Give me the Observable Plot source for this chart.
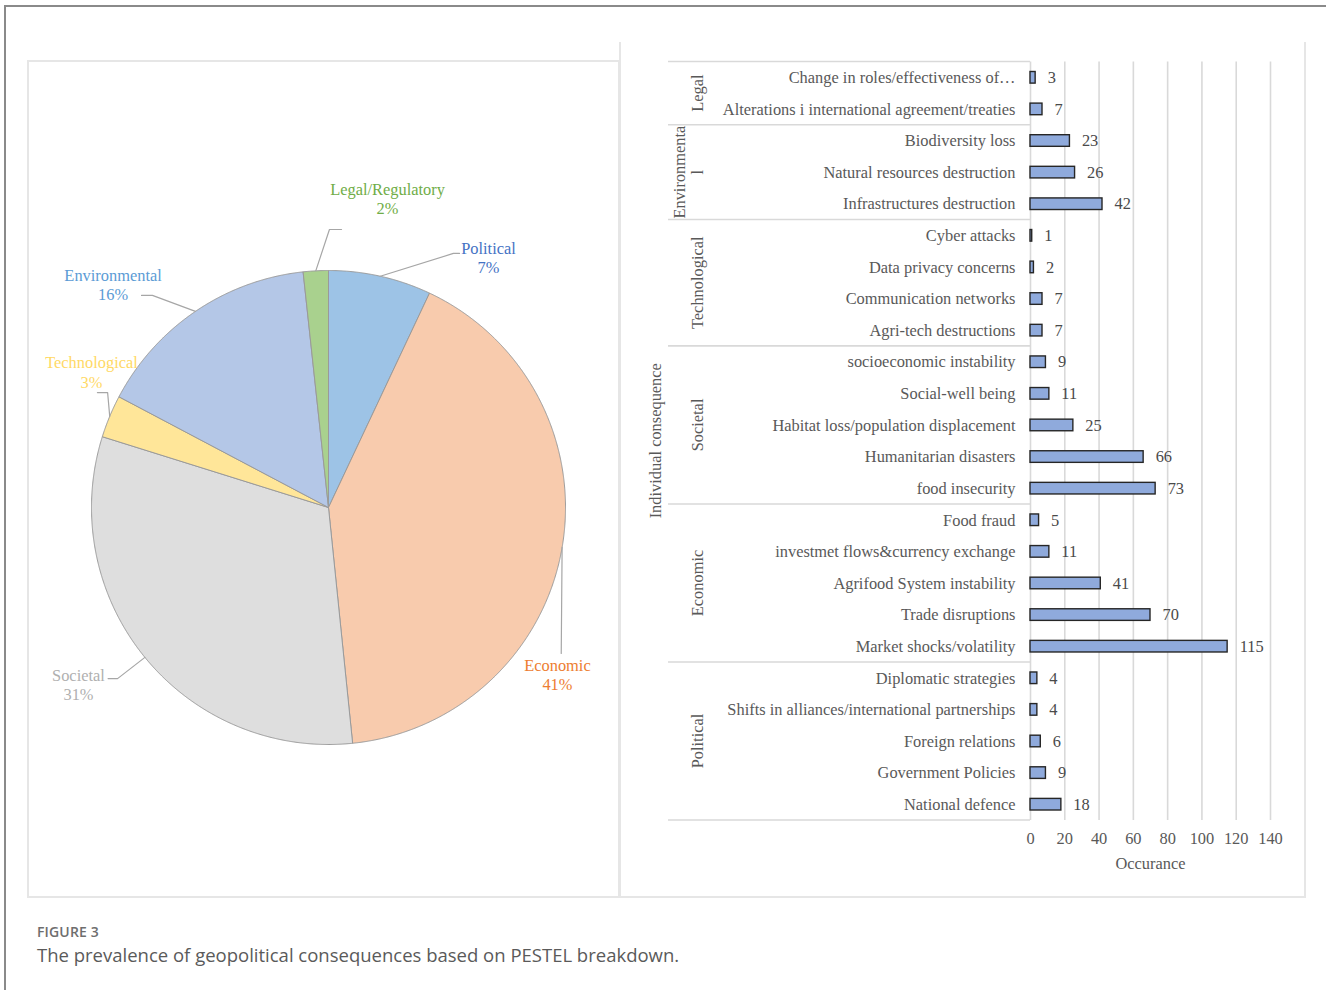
<!DOCTYPE html>
<html>
<head>
<meta charset="utf-8">
<title>PESTEL breakdown of geopolitical consequences</title>
<script src="https://cdn.jsdelivr.net/npm/d3@7"></script>
<script src="https://cdn.jsdelivr.net/npm/@observablehq/plot@0.6"></script>
<style>
  html, body { margin: 0; padding: 0; background: #fff; }
  body { width: 1326px; height: 990px; position: relative; overflow: hidden; }
  .outer { position: absolute; left: 4px; top: 5px; width: 1400px; height: 1100px;
           border-left: 2px solid #8a8a8a; border-top: 2px solid #8a8a8a; }
  .pie-panel { position: absolute; left: 27px; top: 60px; width: 593px; height: 838px;
               box-sizing: border-box; border: 2px solid #e6e6e6; }
  .bar-panel { position: absolute; left: 619px; top: 42px; width: 687px; height: 856px;
               box-sizing: border-box; border: 2px solid #e6e6e6; border-top: none; }
  #pie { position: absolute; left: 27px; top: 60px; }
  #bars { position: absolute; left: 620px; top: 42px; }
  .caption { position: absolute; left: 37px; top: 922px; font-family: "Open Sans", sans-serif; }
  .caption .fig { font-size: 14px; font-weight: 600; color: #6e6e6e; line-height: 20px; letter-spacing: 0.15px; }
  .caption .desc { font-size: 18.5px; color: #5a5a5a; line-height: 24px; margin-top: 1px; }
  svg { overflow: visible; }
</style>
</head>
<body>
<div class="outer"></div>
<div class="pie-panel"></div>
<div class="bar-panel"></div>
<div id="pie"></div>
<div id="bars"></div>
<div class="caption">
  <div class="fig">FIGURE 3</div>
  <div class="desc">The prevalence of geopolitical consequences based on PESTEL breakdown.</div>
</div>
<script>
// ---- data -------------------------------------------------------------
// PESTEL groups, in the order they go clockwise round the pie from 12 o'clock
const pestel = ["Political", "Economic", "Societal", "Technological", "Environmental", "Legal"];
const pieLabels = ["Political", "Economic", "Societal", "Technological", "Environmental", "Legal/Regulatory"];
const groupAxisLabels = ["Political", "Economic", "Societal", "Technological", "Environmenta\nl", "Legal"];
const sliceColors = ["#9dc3e6", "#f8cbad", "#dedede", "#ffe699", "#b4c7e7", "#a9d18e"];
const labelColors = ["#4472c4", "#ed7d31", "#b0b0b0", "#ffd966", "#5b9bd5", "#70ad47"];

// individual consequences, listed top to bottom as they appear in the bar chart
const consequences = [
  "Change in roles/effectiveness of…",
  "Alterations i international agreement/treaties",
  "Biodiversity loss",
  "Natural resources destruction",
  "Infrastructures destruction",
  "Cyber attacks",
  "Data privacy concerns",
  "Communication networks",
  "Agri-tech destructions",
  "socioeconomic instability",
  "Social-well being",
  "Habitat loss/population displacement",
  "Humanitarian disasters",
  "food insecurity",
  "Food fraud",
  "investmet flows&currency exchange",
  "Agrifood System instability",
  "Trade disruptions",
  "Market shocks/volatility",
  "Diplomatic strategies",
  "Shifts in alliances/international partnerships",
  "Foreign relations",
  "Government Policies",
  "National defence"
];
const consequenceGroup = [
  "Legal", "Legal",
  "Environmental", "Environmental", "Environmental",
  "Technological", "Technological", "Technological", "Technological",
  "Societal", "Societal", "Societal", "Societal", "Societal",
  "Economic", "Economic", "Economic", "Economic", "Economic",
  "Political", "Political", "Political", "Political", "Political"
];
const occurrences = [3, 7, 23, 26, 42, 1, 2, 7, 7, 9, 11, 25, 66, 73, 5, 11, 41, 70, 115, 4, 4, 6, 9, 18];
const xTicks = [0, 20, 40, 60, 80, 100, 120, 140];

// ---- shared styling ---------------------------------------------------
const SERIF = "'Liberation Serif', 'Times New Roman', serif";
const FS = 16.4;
const TEXT = "#595959";

const rows = consequences.map((label, i) => ({label, group: consequenceGroup[i], value: occurrences[i]}));

// ---- pie ----------------------------------------------------------------
const totals = pestel.map(g => d3.sum(rows.filter(r => r.group === g), r => r.value));
const grand = d3.sum(totals);
const arcs = d3.pie().sort(null).value(d => d)(totals);

// slice outlines in unit-radius coordinates (angle 0 at the top, clockwise)
const slicePts = [];
arcs.forEach((a, i) => {
  const n = Math.max(2, Math.ceil((a.endAngle - a.startAngle) / 0.004));
  slicePts.push({name: pestel[i], fill: sliceColors[i], x: 0, y: 0});
  for (let k = 0; k <= n; k++) {
    const t = a.startAngle + (a.endAngle - a.startAngle) * k / n;
    slicePts.push({name: pestel[i], fill: sliceColors[i], x: Math.sin(t), y: Math.cos(t)});
  }
  slicePts.push({name: pestel[i], fill: sliceColors[i], x: 0, y: 0});
});

// where each data label sits, and the bends of its leader line (unit-radius coordinates)
const labelLayout = {
  Political:     {at: [0.675, 1.057],  leader: [[0.527, 1.072], [0.553, 1.072]]},
  Economic:      {at: [0.966, -0.705], leader: [[0.982, -0.616]]},
  Societal:      {at: [-1.055, -0.745], leader: [[-0.890, -0.722], [-0.930, -0.722]]},
  Technological: {at: [-1.0, 0.572],   leader: [[-0.932, 0.485], [-0.975, 0.485]]},
  Environmental: {at: [-0.909, 0.943], leader: [[-0.743, 0.895], [-0.789, 0.895]]},
  Legal:         {at: [0.249, 1.304],  leader: [[0.004, 1.173], [0.055, 1.173]]}
};

const leaderPts = [];
arcs.forEach((a, i) => {
  const mid = (a.startAngle + a.endAngle) / 2;
  leaderPts.push({name: pestel[i], x: Math.sin(mid), y: Math.cos(mid)});
  labelLayout[pestel[i]].leader.forEach(([x, y]) => leaderPts.push({name: pestel[i], x, y}));
});

const pieText = pestel.map((g, i) => ({
  x: labelLayout[g].at[0],
  y: labelLayout[g].at[1],
  text: `${pieLabels[i]}\n${Math.round(100 * totals[i] / grand)}%`,
  color: labelColors[i]
}));

const R = 237, CX = 301, CY = 447;
const pie = Plot.plot({
  width: 593, height: 838,
  margin: 0,
  style: {background: "transparent", overflow: "visible"},
  x: {domain: [-1, 1], range: [CX - R, CX + R], axis: null},
  y: {domain: [-1, 1], range: [CY + R, CY - R], axis: null},
  color: {type: "identity"},
  marks: [
    Plot.line(slicePts, {x: "x", y: "y", z: "name", fill: "fill", stroke: "#9a9a9a", strokeWidth: 1, curve: "linear"}),
    Plot.line(leaderPts, {x: "x", y: "y", z: "name", stroke: "#a6a6a6", strokeWidth: 1.2, curve: "linear"}),
    Plot.text(pieText, {x: "x", y: "y", text: "text", fill: "color", fontSize: FS, fontFamily: SERIF, lineHeight: 1.17})
  ]
});
document.getElementById("pie").appendChild(pie);

// ---- bar chart ----------------------------------------------------------
// multi-level category axis: group separators, rotated group names and the outer title
function groupAxis(...args) {
  const [scales, dim] = args.length >= 4 ? [args[1], args[3]] : [args[0], args[1]];
  const top = dim.marginTop, bottom = dim.height - dim.marginBottom;
  const step = (bottom - top) / consequences.length;
  const yStart = c => (scales && scales.y ? scales.y(c) : top + consequences.indexOf(c) * step);
  const g = d3.create("svg:g")
    .attr("font-family", SERIF).attr("font-size", FS).attr("fill", TEXT);
  const groupsTopDown = [...pestel].reverse();
  const bounds = [];
  groupsTopDown.forEach(grp => {
    const members = consequences.filter((c, i) => consequenceGroup[i] === grp);
    const y0 = yStart(members[0]);
    const y1 = yStart(members[members.length - 1]) + step;
    bounds.push(y0, y1);
    const lines = groupAxisLabels[pestel.indexOf(grp)].split("\n");
    const cx = 78, cy = (y0 + y1) / 2;
    lines.forEach((t, k) => {
      const x = cx - (lines.length - 1 - k) * 18;
      g.append("text")
        .attr("transform", `translate(${x},${cy}) rotate(-90)`)
        .attr("text-anchor", "middle").attr("dy", "0.32em")
        .text(t);
    });
  });
  [...new Set(bounds.map(b => Math.round(b * 10) / 10))].forEach(yb => {
    g.append("line")
      .attr("x1", 48).attr("x2", dim.marginLeft)
      .attr("y1", yb).attr("y2", yb)
      .attr("stroke", "#d9d9d9").attr("stroke-width", 1.6);
  });
  g.append("text")
    .attr("transform", `translate(36,${(top + bottom) / 2}) rotate(-90)`)
    .attr("text-anchor", "middle").attr("dy", "0.32em")
    .text("Individual consequence");
  return g.node();
}

const bars = Plot.plot({
  width: 685, height: 856,
  marginLeft: 410, marginRight: 35, marginTop: 19.5, marginBottom: 78,
  style: {background: "transparent", fontFamily: SERIF, fontSize: FS + "px", color: TEXT, overflow: "visible"},
  x: {domain: [0, 140]},
  y: {domain: consequences, padding: 0, round: false},
  marks: [
    Plot.gridX(xTicks, {stroke: "#d9d9d9", strokeOpacity: 1, strokeWidth: 1.6}),
    groupAxis,
    Plot.barX(rows, {x: "value", y: "label", fill: "#8faadc", stroke: "#262626", strokeWidth: 1.4, insetTop: 10, insetBottom: 10}),
    Plot.text(rows, {x: "value", y: "label", text: d => String(d.value), textAnchor: "start", dx: 12, fill: "#4a4a4a", fontSize: FS}),
    Plot.axisY({tickSize: 0, tickPadding: 15, fontSize: FS, fill: TEXT, label: null}),
    Plot.axisX(xTicks, {tickSize: 0, tickPadding: 12, fontSize: FS, fill: TEXT, label: null}),
    Plot.text(["Occurance"], {frameAnchor: "bottom", dy: 48, fontSize: FS, fill: TEXT})
  ]
});
document.getElementById("bars").appendChild(bars);
</script>
</body>
</html>
